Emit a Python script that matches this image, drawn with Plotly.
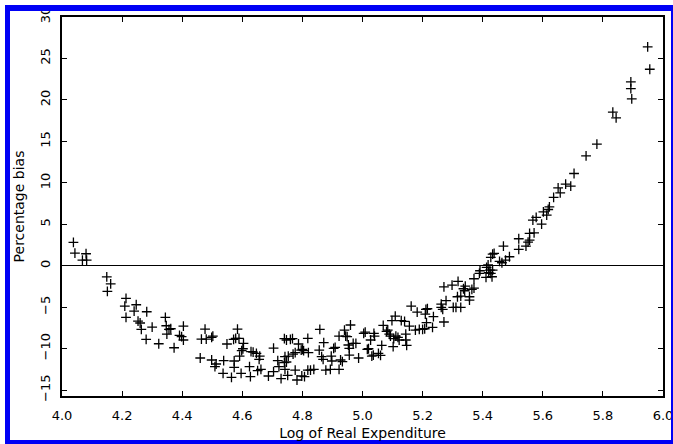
import plotly.graph_objects as go

# Data (log real expenditure, percentage bias)
log_expenditure = [
    4.038, 4.043, 4.080, 4.068, 4.082,
    4.149, 4.162, 4.151,
    4.213, 4.209, 4.213, 4.247, 4.240, 4.253, 4.260, 4.264, 4.282, 4.280, 4.300,
    4.322, 4.344, 4.347, 4.349, 4.356, 4.362, 4.373, 4.391, 4.398, 4.404, 4.404,
    4.460, 4.476, 4.464, 4.480, 4.498, 4.502, 4.498, 4.513, 4.509, 4.538, 4.536,
    4.549, 4.564, 4.571, 4.573, 4.573, 4.584, 4.578, 4.589, 4.591, 4.596, 4.598,
    4.602, 4.604, 4.624, 4.627, 4.629, 4.636, 4.647, 4.651, 4.658, 4.662, 4.656,
    4.687, 4.704, 4.704, 4.718, 4.722, 4.729,
    4.740, 4.747, 4.760, 4.767, 4.742, 4.753, 4.769, 4.776, 4.787, 4.796, 4.800,
    4.804, 4.818, 4.820, 4.740, 4.747, 4.742, 4.751, 4.776, 4.782, 4.798, 4.807,
    4.818, 4.827, 4.838, 4.858, 4.871, 4.856, 4.864, 4.869, 4.878, 4.893, 4.896,
    4.898, 4.904, 4.909, 4.922, 4.922, 4.927, 4.933, 4.940, 4.944, 4.949, 4.953,
    4.956, 4.956, 4.960, 4.969, 4.978, 4.987, 5.004, 5.009, 5.016, 5.020, 5.027,
    5.031, 5.038, 5.036, 5.040, 5.053, 5.060, 5.064, 5.069, 5.080, 5.084, 5.089,
    5.093, 5.098, 5.102, 5.104, 5.109, 5.111, 5.118, 5.122, 5.129, 5.140, 5.144,
    5.144, 5.147, 5.156, 5.162, 5.176, 5.182, 5.189, 5.200, 5.207, 5.209, 5.213,
    5.216, 5.233, 5.236, 5.262, 5.262, 5.267, 5.271, 5.271, 5.278, 5.298, 5.302,
    5.311, 5.316, 5.318, 5.327, 5.327, 5.336, 5.340, 5.342, 5.356, 5.356, 5.364,
    5.371, 5.371, 5.389, 5.391, 5.411, 5.413, 5.418, 5.427, 5.431, 5.427, 5.433,
    5.438, 5.456, 5.464, 5.476, 5.469, 5.489, 5.211, 5.424, 5.433, 5.420,
    5.520, 5.520, 5.544, 5.556, 5.556, 5.571, 5.567, 5.578, 5.596, 5.602, 5.613,
    5.622, 5.618, 5.636, 5.651, 5.658, 5.676, 5.693, 5.704, 5.744, 5.780, 5.833,
    5.844, 5.893, 5.893, 5.896, 5.949, 5.956, 5.551,
]
percentage_bias = [
    2.82, 1.53, 1.45, 0.69, 0.69,
    -1.33, -2.17, -3.08,
    -3.93, -4.86, -6.22, -4.70, -5.46, -6.66, -6.90, -7.66, -5.54, -8.87, -7.39,
    -9.40, -6.22, -7.23, -8.23, -7.66, -7.59, -9.88, -8.39, -8.55, -7.27, -8.95,
    -11.12, -7.63, -8.83, -8.83, -8.63, -8.47, -11.36, -11.84, -12.17, -11.44, -12.97,
    -9.43, -13.45, -8.87, -11.48, -12.24, -7.63, -8.75, -8.75, -10.88, -12.97, -10.24,
    -10.00, -9.35, -12.17, -13.37, -10.36, -10.40, -10.56, -12.65, -10.88, -12.48, -11.28,
    -13.29, -9.92, -12.77, -11.44, -12.17, -13.61,
    -8.79, -8.95, -8.87, -8.79, -10.96, -10.88, -10.64, -10.48, -9.43, -10.16, -10.08,
    -10.24, -8.75, -10.48, -11.68, -11.60, -12.49, -13.21, -12.57, -13.77, -13.29, -13.37,
    -12.57, -12.57, -12.49, -7.67, -9.27, -10.16, -10.96, -11.28, -12.57, -12.49, -10.88,
    -11.48, -9.96, -9.84, -8.47, -12.49, -11.36, -11.56, -7.75, -8.47, -8.55, -9.55,
    -9.96, -10.76, -7.14, -9.35, -9.35, -11.12, -8.15, -7.99, -10.08, -10.00, -8.95,
    -10.88, -8.15, -10.76, -8.47, -10.56, -10.80, -9.59, -7.18, -7.91, -7.75, -8.23,
    -8.47, -6.62, -9.75, -8.79, -6.06, -8.47, -8.63, -8.95, -6.62, -6.70, -8.23,
    -8.95, -9.59, -7.27, -4.86, -7.75, -5.58, -7.67, -7.67, -7.59, -5.82, -6.86,
    -5.18, -7.43, -6.14, -4.61, -5.02, -5.26, -6.78, -2.53, -4.21, -2.33, -5.02,
    -5.02, -3.73, -1.88, -5.02, -3.65, -2.77, -3.01, -2.45, -4.13, -3.73, -2.85,
    -2.69, -1.56, -0.92, -0.60, -1.40, -0.20, 0.12, -0.92, -1.32, 1.01, 1.41,
    1.49, 0.53, 0.37, 0.69, 2.37, 1.09, -5.26, -0.52, -0.52, -0.84,
    3.26, 1.97, 2.37, 3.10, 3.90, 3.98, 5.51, 5.83, 5.02, 6.51, 6.11,
    7.11, 6.79, 8.24, 9.40, 8.80, 9.84, 9.60, 11.13, 13.26, 14.66, 18.52,
    17.84, 22.17, 21.37, 20.12, 26.39, 23.70, 2.86,
]

x_ticks = [4.0, 4.2, 4.4, 4.6, 4.8, 5.0, 5.2, 5.4, 5.6, 5.8, 6.0]
x_tick_labels = ["4.0", "4.2", "4.4", "4.6", "4.8", "5.0", "5.2", "5.4", "5.6", "5.8", "6.0"]
y_ticks = [-15, -10, -5, 0, 5, 10, 15, 20, 25, 30]
y_tick_labels = ["\u221215", "\u221210", "\u22125", "0", "5", "10", "15", "20", "25", "30"]

W, H = 673, 444
ML, MR, MT, MB = 62, 10, 17, 48
PW, PH = W - ML - MR, H - MT - MB


def px_x(p):
    return (p - ML) / PW


def px_y(p):
    return (H - MB - p) / PH


fig = go.Figure()
fig.add_trace(go.Scatter(
    x=log_expenditure, y=percentage_bias, mode="markers",
    marker=dict(symbol="cross-thin", size=7,
                line=dict(width=1.3, color="black"), color="black"),
    showlegend=False, hoverinfo="skip",
))

font_family = "DejaVu Sans"
fig.update_layout(
    width=W, height=H,
    margin=dict(l=ML, r=MR, t=MT, b=MB, autoexpand=False),
    paper_bgcolor="white", plot_bgcolor="white",
    font=dict(family=font_family, size=13, color="black"),
    xaxis=dict(
        range=[4.0, 6.0], tickvals=x_ticks, ticktext=x_tick_labels,
        automargin=False, ticklabeloverflow="allow",
        showgrid=False, zeroline=False,
        showline=True, linecolor="black", linewidth=1.5, mirror="ticks",
        ticks="inside", ticklen=5, tickwidth=1, tickcolor="black",
        ticklabelstandoff=7,
        tickfont=dict(size=13),
        title=dict(text="Log of Real Expenditure", font=dict(size=14), standoff=6),
    ),
    yaxis=dict(
        range=[-15.7, 30], tickvals=y_ticks, ticktext=y_tick_labels,
        automargin=False, ticklabeloverflow="allow",
        showgrid=False, zeroline=True, zerolinecolor="black", zerolinewidth=1,
        showline=True, linecolor="black", linewidth=1.5, mirror="ticks",
        ticks="inside", ticklen=5, tickwidth=1, tickcolor="black",
        tickangle=-90, ticklabelstandoff=5,
        tickfont=dict(size=13),
        title=dict(text="Percentage bias", font=dict(size=14), standoff=10),
    ),
)

blue = "#0000F5"
bands = [
    (5, 5, 673, 11),     # top
    (5, 5, 10, 444),     # left
    (5, 440, 673, 444),  # bottom
    (671, 5, 673, 444),  # right
]
for x0, y0, x1, y1 in bands:
    fig.add_shape(type="rect", xref="paper", yref="paper",
                  x0=px_x(x0), x1=px_x(x1), y0=px_y(y1), y1=px_y(y0),
                  fillcolor=blue, line=dict(width=0), layer="above")

fig.write_html("out.html")
